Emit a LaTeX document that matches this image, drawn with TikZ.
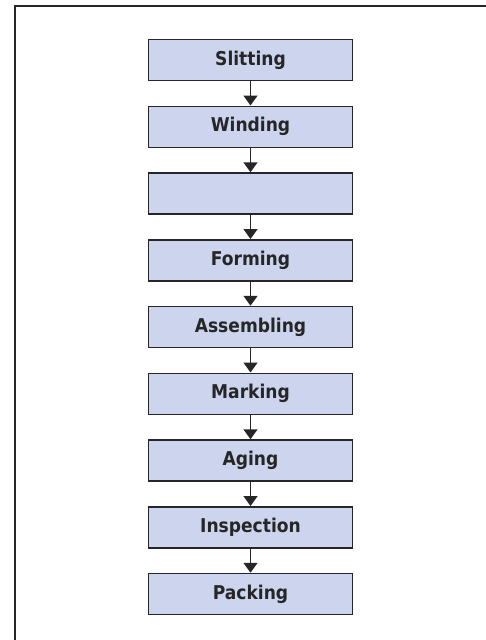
\documentclass[tikz,border=0pt]{standalone}
\usepackage{fontspec}
\setmainfont{DejaVu Sans Condensed}
\usetikzlibrary{arrows.meta}
\definecolor{boxfill}{HTML}{CDD5EE}
\definecolor{ink}{HTML}{262626}

\begin{document}
\begin{tikzpicture}[x=1pt, y=1pt,
    stage/.style={draw=ink, line width=1.5pt, fill=boxfill, minimum width=204pt,
      minimum height=41pt, inner sep=0pt, text=ink,
      font=\bfseries\fontsize{19}{22}\selectfont},
    flow/.style={-{Triangle[width=14pt,length=10pt]}, line width=1.5pt, draw=ink}]
    \useasboundingbox (0,0) rectangle (485,-640);
    % frame
    \draw[line width=2pt, ink] (15,-641) -- (15,-6) -- (486,-6);
    % stages
    \foreach \name/\txt [count=\i from 0] in {slit/Slitting, wind/Winding, blank/{},
        form/Forming, assem/Assembling, mark/Marking, aging/Aging,
        insp/Inspection, pack/Packing}
      \node[stage] (\name) at (250.5,-60-66.75*\i) {\txt};
    % arrows
    \foreach \a/\b in {slit/wind, wind/blank, blank/form, form/assem, assem/mark,
        mark/aging, aging/insp, insp/pack}
      \draw[flow] (\a) -- (\b);
  \end{tikzpicture}
\end{document}
